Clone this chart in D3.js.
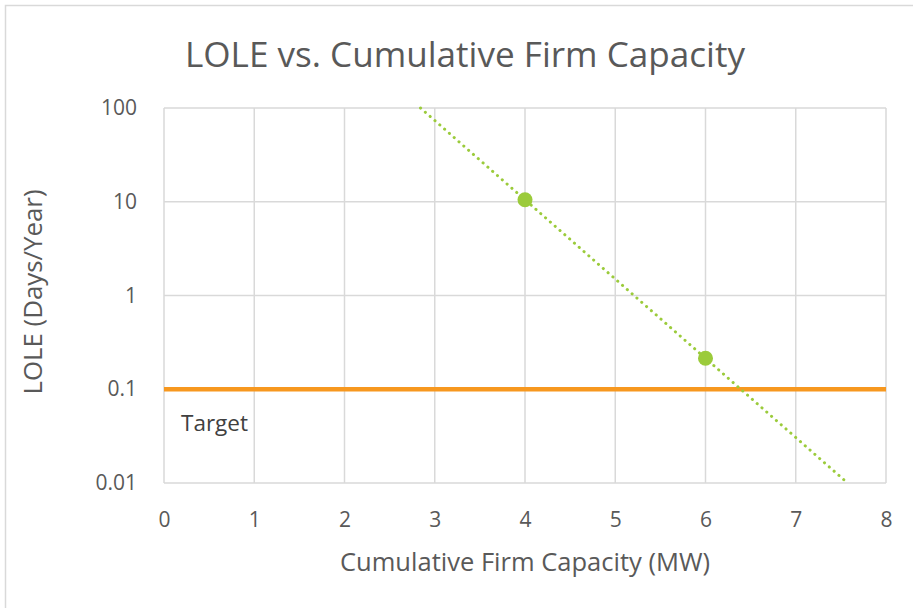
<!DOCTYPE html>
<html>
<head>
<meta charset="utf-8">
<script src="https://cdn.jsdelivr.net/npm/d3@7"></script>
<style>
  html, body { margin: 0; padding: 0; background: #fff; }
  svg { display: block; font-family: "Open Sans", "Noto Sans", sans-serif; }
</style>
</head>
<body>
<svg id="chart" width="913" height="608"></svg>
<script>
const title = "LOLE vs. Cumulative Firm Capacity";
const xTitle = "Cumulative Firm Capacity (MW)";
const yTitle = "LOLE (Days/Year)";
const xTicks = [0, 1, 2, 3, 4, 5, 6, 7, 8];
const yTicks = [0.01, 0.1, 1, 10, 100];
const yTickLabels = ["0.01", "0.1", "1", "10", "100"];
const capacity = [4, 6];
const lole = [10.5, 0.214];
const targetX = [0, 8];
const targetY = [0.1, 0.1];
const targetLabel = "Target";

const svg = d3.select("#chart");
const margin = { left: 164, right: 27, top: 108, bottom: 125 };
const W = 913, H = 608;

const x = d3.scaleLinear().domain([0, 8]).range([margin.left, W - margin.right]);
const y = d3.scaleLog().domain([0.01, 100]).range([H - margin.bottom, margin.top]);

// outer border
svg.append("rect").attr("x", 5.5).attr("y", 5.5).attr("width", 920).attr("height", 620)
  .attr("fill", "none").attr("stroke", "#d9d9d9").attr("stroke-width", 1.5);

// gridlines
const grid = svg.append("g");
grid.selectAll("line.v").data(xTicks).join("line")
  .attr("x1", d => x(d)).attr("x2", d => x(d))
  .attr("y1", y(0.01)).attr("y2", y(100))
  .attr("stroke", "#d9d9d9").attr("stroke-width", 1.5);
grid.selectAll("line.h").data(yTicks).join("line")
  .attr("x1", x(0)).attr("x2", x(8))
  .attr("y1", d => y(d)).attr("y2", d => y(d))
  .attr("stroke", "#d9d9d9").attr("stroke-width", 1.5);

// axes (labels only)
const xAxis = d3.axisBottom(x).tickValues(xTicks).tickSize(0).tickPadding(29).tickFormat(d3.format("d"));
const gx = svg.append("g").attr("transform", `translate(0,${y(0.01)})`).call(xAxis);
gx.select(".domain").remove();
gx.selectAll("text").attr("font-size", 21).attr("fill", "#595959").attr("font-family", "\"Open Sans\", sans-serif");

const yAxis = d3.axisLeft(y).tickValues(yTicks).tickSize(0).tickPadding(27)
  .tickFormat((d, i) => yTickLabels[i]);
const gy = svg.append("g").attr("transform", `translate(${x(0)},0)`).call(yAxis);
gy.select(".domain").remove();
gy.selectAll("text").attr("font-size", 21).attr("fill", "#595959").attr("font-family", "\"Open Sans\", sans-serif");

// target line
const targetData = targetX.map((d, i) => [d, targetY[i]]);
svg.append("path").datum(targetData)
  .attr("d", d3.line().x(d => x(d[0])).y(d => y(d[1])))
  .attr("stroke", "#F7981F").attr("stroke-width", 4.5).attr("fill", "none");

svg.append("text").attr("x", x(0) + 17).attr("y", y(0.1) + 42)
  .attr("font-size", 21).attr("fill", "#404040")
  .attr("textLength", 67).attr("lengthAdjust", "spacingAndGlyphs").text(targetLabel);

// exponential trendline fitted to the points (like Excel)
const lx = capacity, ly = lole.map(v => Math.log(v));
const mx = d3.mean(lx), my = d3.mean(ly);
const b = d3.sum(lx.map((v, i) => (v - mx) * (ly[i] - my))) / d3.sum(lx.map(v => (v - mx) * (v - mx)));
const a = my - b * mx;
const fx = v => Math.exp(a + b * v);
const xAtY = yy => (Math.log(yy) - a) / b;
const tStart = Math.max(0, xAtY(100)), tEnd = Math.min(8, xAtY(0.01));
svg.append("path").datum([tStart, tEnd])
  .attr("d", d3.line().x(d => x(d)).y(d => y(fx(d))))
  .attr("stroke", "#9BCB3B").attr("stroke-width", 3).attr("fill", "none")
  .attr("stroke-linecap", "round").attr("stroke-dasharray", "0.1 6.3");

// points
svg.selectAll("circle.pt").data(capacity).join("circle")
  .attr("cx", d => x(d)).attr("cy", (d, i) => y(lole[i])).attr("r", 7.5)
  .attr("fill", "#9BCB3B");

// titles
svg.append("text").attr("x", 465).attr("y", 67).attr("text-anchor", "middle")
  .attr("font-size", 35).attr("fill", "#595959")
  .attr("textLength", 560).attr("lengthAdjust", "spacingAndGlyphs").text(title);
svg.append("text").attr("x", 525).attr("y", 571).attr("text-anchor", "middle")
  .attr("font-size", 25).attr("fill", "#595959")
  .attr("textLength", 370).attr("lengthAdjust", "spacingAndGlyphs").text(xTitle);
svg.append("text").attr("transform", `translate(42,292) rotate(-90)`).attr("text-anchor", "middle")
  .attr("font-size", 25).attr("fill", "#595959")
  .attr("textLength", 205).attr("lengthAdjust", "spacingAndGlyphs").text(yTitle);
</script>
</body>
</html>
